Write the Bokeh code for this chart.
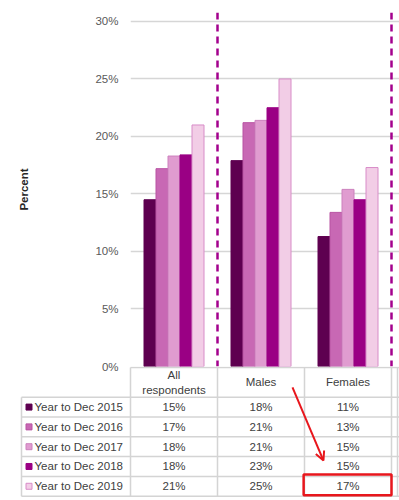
from bokeh.plotting import figure
from bokeh.layouts import column
from bokeh.models import Range1d, FixedTicker, PrintfTickFormatter, Span, BoxAnnotation, Arrow, OpenHead
from bokeh.core.properties import value
from bokeh.embed import file_html
from bokeh.resources import INLINE

# ---------------- data ----------------
categories = ["All respondents", "Males", "Females"]
header_labels = ["All\nrespondents", "Males", "Females"]
years = ["Year to Dec 2015", "Year to Dec 2016", "Year to Dec 2017",
         "Year to Dec 2018", "Year to Dec 2019"]
vals_2015 = [14.5, 17.9, 11.3]
vals_2016 = [17.2, 21.2, 13.4]
vals_2017 = [18.3, 21.4, 15.4]
vals_2018 = [18.4, 22.5, 14.5]
vals_2019 = [21.0, 25.0, 17.3]
series = [vals_2015, vals_2016, vals_2017, vals_2018, vals_2019]
y_ticks = [0, 5, 10, 15, 20, 25, 30]
fill_colors = ["#5e0050", "#c868b4", "#e09cd0", "#9a0084", "#f2cde6"]
line_colors = ["#5e0050", "#b852a2", "#cc80bd", "#9a0084", "#d88cc8"]
highlight = ("Females", "Year to Dec 2019")

# ---------------- layout constants ----------------
FONT = value("Liberation Sans")
W = 399
LEFT = 130            # frame left offset (px)
PPU = 87.0            # px per category
FRAME_W = W - LEFT
X_END = FRAME_W / PPU
BAR_W = 12 / PPU
FRAME_BOTTOM = 366
OVERLAP = 8
TOP_H = FRAME_BOTTOM + OVERLAP
Y_MAX = 30.78

# ---------------- chart ----------------
p = figure(width=W, height=TOP_H, output_backend="svg", toolbar_location=None,
           x_range=Range1d(0, X_END), y_range=Range1d(0, Y_MAX),
           x_axis_location=None, min_border_left=LEFT, min_border_right=0,
           min_border_top=12, min_border_bottom=OVERLAP)
p.frame_align = False
p.outline_line_color = None
p.xgrid.visible = False
p.ygrid.grid_line_color = "#d6d6d6"
p.ygrid.grid_line_width = 1.5
p.yaxis.ticker = FixedTicker(ticks=y_ticks)
p.yaxis.formatter = PrintfTickFormatter(format="%d%%")
p.yaxis.axis_line_color = None
p.yaxis.major_tick_line_color = None
p.yaxis.minor_tick_line_color = None
p.yaxis.major_tick_out = 0
p.yaxis.major_tick_in = 0
p.yaxis.major_label_standoff = 12
p.yaxis.major_label_text_font = "Liberation Sans"
p.yaxis.major_label_text_font_size = "11.5px"
p.yaxis.major_label_text_color = "#595959"
p.yaxis.axis_label = "Percent"
p.yaxis.axis_label_text_font = "Liberation Sans"
p.yaxis.axis_label_text_font_size = "11.5px"
p.yaxis.axis_label_text_font_style = "bold"
p.yaxis.axis_label_text_color = "#262626"
p.yaxis.axis_label_standoff = 62

for j, vals in enumerate(series):
    xs = [i + 0.5 + (j - 2) * BAR_W for i in range(len(categories))]
    p.vbar(x=xs, top=vals, bottom=0, width=BAR_W,
           fill_color=fill_colors[j], line_color=line_colors[j], line_width=1)

for loc in [1.0, 3.0]:
    p.add_layout(Span(location=loc, dimension="height", line_color="#a3008d",
                      line_width=2.5, line_dash="7 5"))

# ---------------- table ----------------
n_rows = len(years)
HEAD = 1.5
ROW_PX = 19.8
TAB_H = 500 - FRAME_BOTTOM
x_start = -LEFT / PPU
leg_left = -109 / PPU
t = figure(width=W, height=TAB_H, output_backend="svg", toolbar_location=None,
           x_range=Range1d(x_start, X_END), y_range=Range1d(-0.05 + TAB_H / ROW_PX, -0.05),
           x_axis_location=None, y_axis_location=None,
           min_border_left=0, min_border_right=0, min_border_top=0, min_border_bottom=0)
t.frame_align = False
t.margin = (-OVERLAP, 0, 0, 0)
t.outline_line_color = None
t.border_fill_color = None
t.background_fill_color = None
t.grid.visible = False

grid_col = "#d4d4d4"
extra_col = len(categories) + 6 / PPU
# horizontal lines
hx0, hx1, hy = [0], [X_END], [0]
for r in range(n_rows + 1):
    hx0.append(leg_left); hx1.append(X_END); hy.append(HEAD + r)
t.segment(x0=hx0, y0=hy, x1=hx1, y1=hy, line_color=grid_col, line_width=1.5)
# vertical lines
vx = [leg_left] + list(range(len(categories) + 1)) + [extra_col]
vy0 = [HEAD] + [0] * (len(categories) + 2)
vy1 = [HEAD + n_rows] * len(vx)
t.segment(x0=vx, y0=vy0, x1=vx, y1=vy1, line_color=grid_col, line_width=1.5)

# header
t.text(x=[i + 0.5 for i in range(len(categories))], y=[HEAD / 2] * len(categories),
       text=header_labels, text_font=FONT, text_font_size="11.5px",
       text_align="center", text_baseline="middle", text_color="#404040",
       text_line_height=1.3)
# legend column
row_y = [HEAD + r + 0.5 for r in range(n_rows)]
t.scatter(x=[leg_left + 7.5 / PPU] * n_rows, y=row_y, marker="square", size=6,
          fill_color=fill_colors, line_color=line_colors, line_width=1)
t.text(x=[leg_left + 13 / PPU] * n_rows, y=row_y, text=years, text_font=FONT,
       text_font_size="11.5px", text_align="left", text_baseline="middle",
       text_color="#404040")
# values
cx, cy, ct = [], [], []
for r, vals in enumerate(series):
    for i, v in enumerate(vals):
        cx.append(i + 0.5); cy.append(row_y[r]); ct.append(f"{int(v + 0.5)}%")
t.text(x=cx, y=cy, text=ct, text_font=FONT, text_font_size="11.5px",
       text_align="center", text_baseline="middle", text_color="#404040")

# highlight annotation
hc = categories.index(highlight[0])
hr = years.index(highlight[1])
t.add_layout(BoxAnnotation(left=hc - 0.01, right=hc + 1, top=HEAD + hr - 0.1,
                           bottom=HEAD + hr + 0.95, fill_alpha=0, line_alpha=1,
                           line_color="#e8161c", line_width=2.5))
t.add_layout(Arrow(end=OpenHead(size=9, line_color="#e8161c", line_width=2),
                   x_start=hc - 1 + 0.862, y_start=1.0,
                   x_end=hc + 0.218, y_end=HEAD + hr - 0.8,
                   line_color="#e8161c", line_width=2))

layout = column(p, t)
open("out.html", "w").write(file_html(layout, INLINE))
